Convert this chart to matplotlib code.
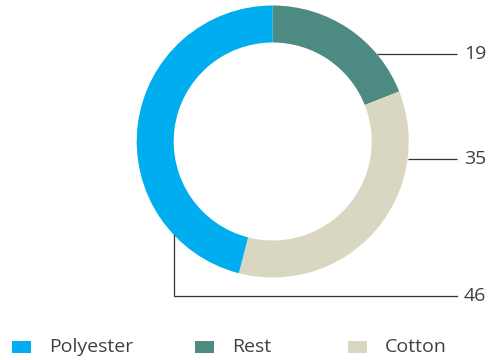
import numpy as np
import matplotlib
matplotlib.use("Agg")
import matplotlib.pyplot as plt
from matplotlib.patches import Rectangle

categories = ["Polyester", "Rest", "Cotton"]
values = [46, 19, 35]
colors = ["#00AEEF", "#4D8B82", "#D9D7C1"]
pie_order = ["Rest", "Cotton", "Polyester"]

plt.rcParams['font.family'] = ['Open Sans', 'DejaVu Sans']
TXT = "#404040"
LINE = "#333333"
FS = 14

W, H = 494, 360
fig = plt.figure(figsize=(W / 100, H / 100), dpi=100)
ax = fig.add_axes([0, 0, 1, 1])

cx, cy = 272.7, H - 141.5
R, ring = 136, 37

idx = [categories.index(c) for c in pie_order]
ax.pie([values[i] for i in idx], colors=[colors[i] for i in idx],
       radius=R, center=(cx, cy), startangle=90, counterclock=False,
       wedgeprops=dict(width=ring, linewidth=0))

ax.set_xlim(0, W)
ax.set_ylim(0, H)
ax.set_aspect('equal')
ax.axis('off')

line_end = 457
text_x = 464
for cat, ypix in [("Rest", 54.3), ("Cotton", 159)]:
    y = H - ypix
    x0 = cx + np.sqrt(R**2 - (y - cy)**2)
    ax.plot([x0, line_end], [y, y], color=LINE, lw=0.9, solid_capstyle='butt')
    ax.text(text_x, y, str(values[categories.index(cat)]), fontsize=FS,
            color=TXT, va='center', ha='left')
xv = 174.3
yb = H - 295.7
ytop = cy - np.sqrt(R**2 - (xv - cx)**2)
ax.plot([xv, xv, line_end], [ytop, yb, yb], color=LINE, lw=0.9,
        solid_joinstyle='miter')
ax.text(text_x, yb, str(values[categories.index("Polyester")]), fontsize=FS,
        color=TXT, va='center', ha='left')

leg_x = [12, 195, 348]
leg_y = H - 346.5
for cat, lx in zip(categories, leg_x):
    c = colors[categories.index(cat)]
    ax.add_patch(Rectangle((lx, leg_y - 6), 19, 12, facecolor=c, edgecolor='none'))
    ax.text(lx + 37, leg_y, cat, fontsize=FS, color=TXT, va='center', ha='left')

fig.savefig("out.png", dpi=100)
